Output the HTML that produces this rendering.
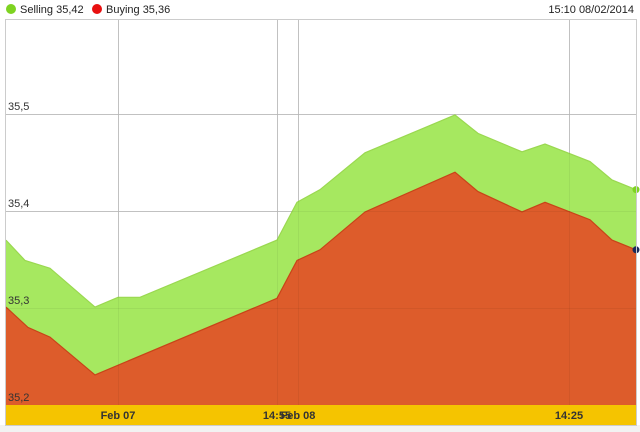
<!DOCTYPE html>
<html><head><meta charset="utf-8">
<style>
body{margin:0;width:640px;height:432px;background:#fff;font-family:"Liberation Sans",sans-serif;overflow:hidden;position:relative}
.t{position:absolute;font-size:11px;color:#222}
</style></head>
<body>
<svg width="640" height="432" style="position:absolute;left:0;top:0">
  <rect x="0" y="0" width="640" height="432" fill="#fff"/>
  <rect x="0" y="425" width="640" height="7" fill="#f2f2f2"/>
  <g id="grid"></g>
  <g id="areas"></g>
  <g id="grid2"></g>
  <rect x="6" y="405" width="630" height="20" fill="#f5c400"/>
  <g id="labels"></g>
  <rect x="5.5" y="19.5" width="631" height="406" fill="none" stroke="#ccc"/>
</svg>
<div class="t" style="left:6px;top:4px"><span style="display:inline-block;width:10px;height:10px;border-radius:50%;background:#7ed321;vertical-align:-1px;margin-right:4px"></span>Selling 35,42</div>
<div class="t" style="left:92px;top:4px"><span style="display:inline-block;width:10px;height:10px;border-radius:50%;background:#e81010;vertical-align:-1px;margin-right:4px"></span>Buying 35,36</div>
<div class="t" style="right:6px;top:4px">15:10 08/02/2014</div>
<script>
const times=[0,19,44,89,112,134,271,291,314,359,449,472,516,539,584,606,630];
const selling=[35.370,35.349,35.341,35.301,35.311,35.311,35.370,35.409,35.422,35.460,35.499,35.480,35.461,35.469,35.451,35.432,35.422];
const buyTimes=[0,22,44,89,271,291,314,359,449,472,516,539,584,606,630];
const buying=[35.301,35.280,35.270,35.231,35.310,35.349,35.360,35.399,35.440,35.420,35.399,35.409,35.391,35.370,35.360];
const yTicks=[35.2,35.3,35.4,35.5];
const yTickLabels=["35,2","35,3","35,4","35,5"];
const xTicks=[112,271,292,563];
const xTickLabels=["Feb 07","14:55","Feb 08","14:25"];
const X=t=>6+t, Y=v=>405-(v-35.2)*970;
const NS="http://www.w3.org/2000/svg";
function mk(tag,attrs,parent){const e=document.createElementNS(NS,tag);for(const k in attrs)e.setAttribute(k,attrs[k]);parent.appendChild(e);return e;}
const grid=document.getElementById('grid'),grid2=document.getElementById('grid2'),areas=document.getElementById('areas'),labels=document.getElementById('labels');
yTicks.forEach((v,i)=>{
  const l=mk('line',{x1:6,x2:636,y1:Y(v)+.5,y2:Y(v)+.5,stroke:'#ccc'},grid);
  
  
  const l2=mk('line',{x1:6,x2:636,y1:Y(v)+.5,y2:Y(v)+.5,stroke:'#000','stroke-opacity':0.05},grid2);
  
  
});
xTicks.forEach(t=>{
  const l=mk('line',{x1:X(t)+.5,x2:X(t)+.5,y1:20,y2:425,stroke:'#ccc'},grid);
  
  
  const l2=mk('line',{x1:X(t)+.5,x2:X(t)+.5,y1:20,y2:425,stroke:'#000','stroke-opacity':0.05},grid2);
  
  
});
function area(ts,vs,fill,stroke,name){
  let d='M'+X(ts[0])+','+Y(35.2);
  ts.forEach((t,i)=>d+=' L'+X(t)+','+Y(vs[i]));
  d+=' L'+X(ts[ts.length-1])+','+Y(35.2)+'Z';
  const p=mk('path',{d:d,fill:fill},areas);
  
  
  const pts=ts.map((t,i)=>X(t)+','+Y(vs[i])).join(' ');
  const l=mk('polyline',{points:pts,fill:'none',stroke:stroke,'stroke-width':1.2},areas);
  
  
}
area(times,selling,'#a6e860','#9ad850','selling');
area(buyTimes,buying,'#dd5c2b','#c84418','buying');
let c=mk('circle',{cx:X(times[times.length-1]),cy:Y(selling[selling.length-1]),r:3.5,fill:'#7ed321'},areas);


c=mk('circle',{cx:X(buyTimes[buyTimes.length-1]),cy:Y(buying[buying.length-1]),r:3.5,fill:'#1a2a5a'},areas);


yTicks.forEach((v,i)=>{
  const t=mk('text',{x:8,y:Y(v)-4,'font-size':11,fill:'#333','font-family':'Liberation Sans, sans-serif'},labels);
  t.textContent=yTickLabels[i];
  
  
});
xTicks.forEach((tt,i)=>{
  const t=mk('text',{x:X(tt),y:419,'font-size':11,'font-weight':'bold',fill:'#333','text-anchor':'middle','font-family':'Liberation Sans, sans-serif'},labels);
  t.textContent=xTickLabels[i];
  
  
});
</script>
</body></html>
